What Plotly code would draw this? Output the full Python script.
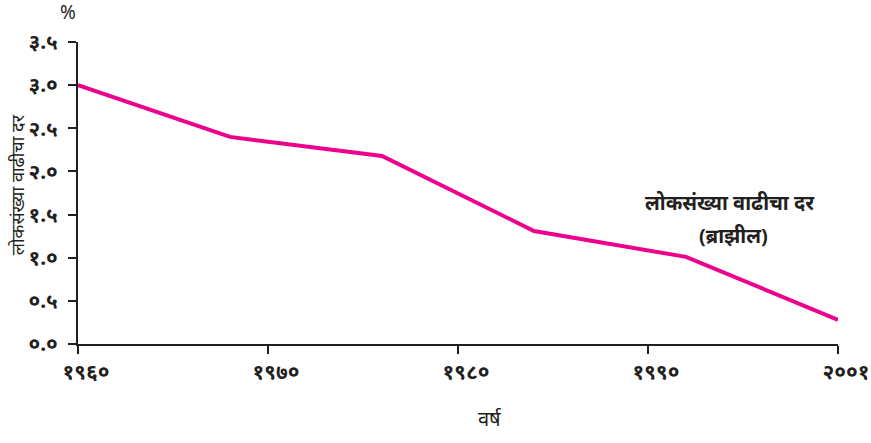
import plotly.graph_objects as go

# Brazil population growth rate (%)
years = [1960, 1968, 1976, 1984, 1992, 2000]
rates = [3.0, 2.4, 2.18, 1.31, 1.01, 0.28]

x_tickvals = [1960, 1970, 1980, 1990, 2000]
x_ticktext = ["१९६०", "१९७०", "१९८०", "१९९०", "२००१"]
y_tickvals = [0, 0.5, 1.0, 1.5, 2.0, 2.5, 3.0, 3.5]
y_ticktext = ["०.०", "०.५", "१.०", "१.५", "२.०", "२.५", "३.०", "३.५"]

ink = "#231F20"
font = "Noto Sans, DejaVu Sans, sans-serif"

fig = go.Figure(go.Scatter(
    x=years, y=rates, mode="lines",
    line=dict(color="#EC008C", width=4),
    hoverinfo="skip",
))

fig.update_xaxes(
    range=[1960, 2000], tickvals=x_tickvals, ticktext=x_ticktext,
    showgrid=False, zeroline=False, showline=True, linecolor=ink, linewidth=2,
    ticks="outside", ticklen=8, tickwidth=2, tickcolor=ink,
    ticklabelshift=8, ticklabelstandoff=0, automargin=False,
    ticklabeloverflow="allow",
    tickfont=dict(family=font, size=21, color=ink, weight="bold"),
)
fig.update_yaxes(
    range=[0, 3.5], tickvals=y_tickvals, ticktext=y_ticktext,
    showgrid=False, zeroline=False, showline=True, linecolor=ink, linewidth=2,
    ticks="outside", ticklen=8, tickwidth=2, tickcolor=ink,
    ticklabelstandoff=6, automargin=False,
    tickfont=dict(family=font, size=21, color=ink, weight="bold"),
)

def note(x, y, text, size, **kw):
    fig.add_annotation(x=x, y=y, xref="paper", yref="paper", text=text,
                       showarrow=False, xanchor="center", yanchor="middle",
                       font=dict(family=font, size=size, color=ink), **kw)

note(-0.081, 0.527, "लोकसंख्या वाढीचा दर", 18, textangle=-90)
note(-0.013, 1.099, "%", 19)
note(0.542, -0.248, "वर्ष", 20)
note(0.858, 0.467, "<b>लोकसंख्या वाढीचा दर</b>", 20)
note(0.863, 0.358, "<b>(ब्राझील)</b>", 20)

fig.update_layout(
    width=871, height=443,
    margin=dict(l=78, r=33, t=42, b=99),
    paper_bgcolor="white", plot_bgcolor="white",
    showlegend=False,
)

fig.write_html("out.html", config={"displayModeBar": False},
               post_script="document.body.style.margin='0';")
